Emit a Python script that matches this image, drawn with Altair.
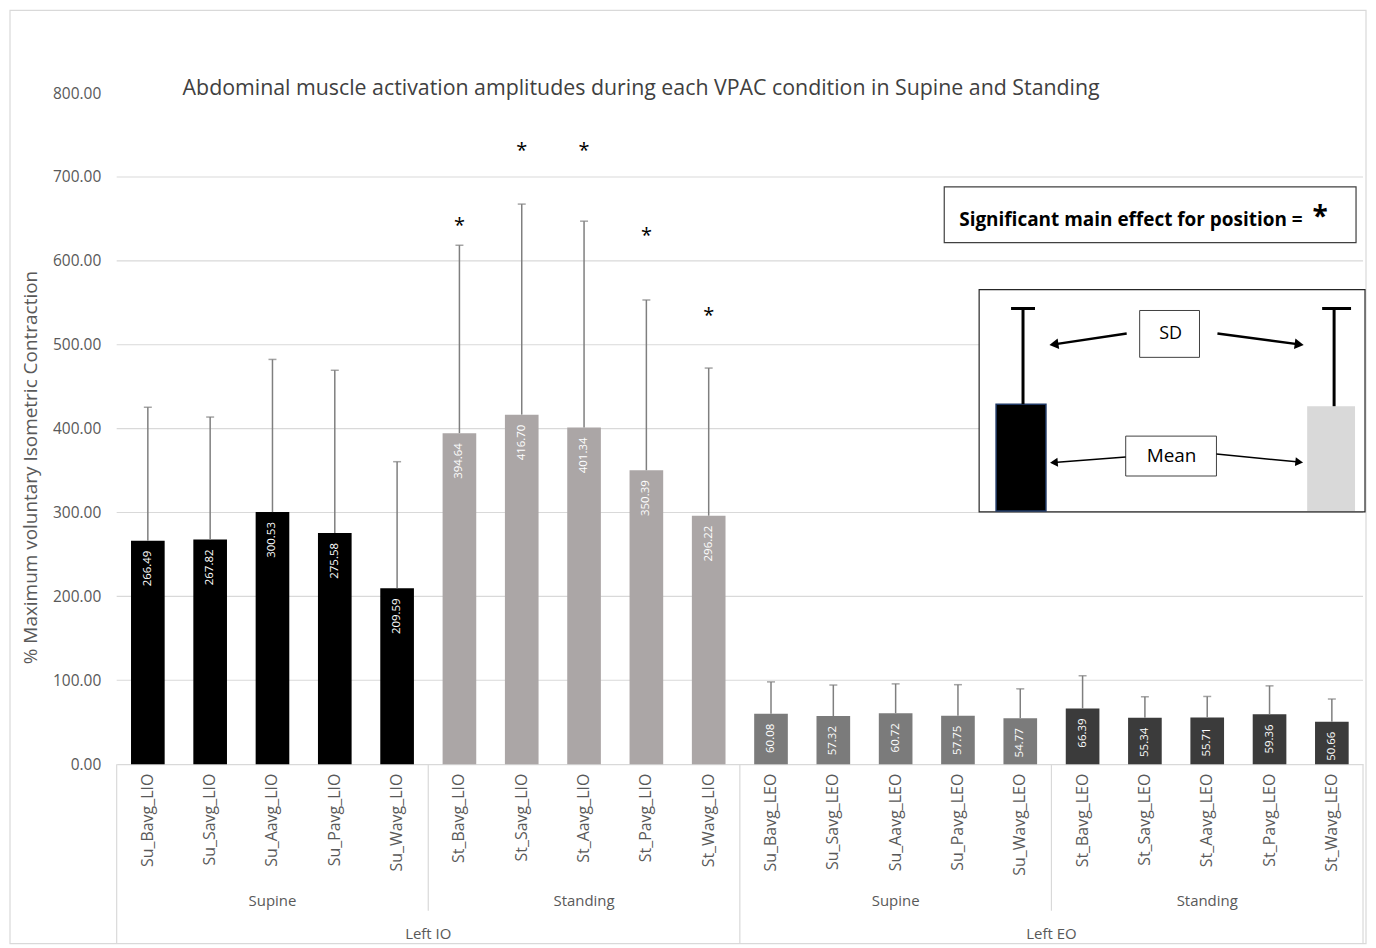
import altair as alt
import pandas as pd

# ---------------- data ----------------
categories = [
    "Su_Bavg_LIO", "Su_Savg_LIO", "Su_Aavg_LIO", "Su_Pavg_LIO", "Su_Wavg_LIO",
    "St_Bavg_LIO", "St_Savg_LIO", "St_Aavg_LIO", "St_Pavg_LIO", "St_Wavg_LIO",
    "Su_Bavg_LEO", "Su_Savg_LEO", "Su_Aavg_LEO", "Su_Pavg_LEO", "Su_Wavg_LEO",
    "St_Bavg_LEO", "St_Savg_LEO", "St_Aavg_LEO", "St_Pavg_LEO", "St_Wavg_LEO",
]
means = [266.49, 267.82, 300.53, 275.58, 209.59,
         394.64, 416.70, 401.34, 350.39, 296.22,
         60.08, 57.32, 60.72, 57.75, 54.77,
         66.39, 55.34, 55.71, 59.36, 50.66]
sds = [159, 146, 182, 194, 151,
       224, 251, 246, 203, 176,
       38, 37, 35, 37, 35,
       39, 25, 25, 34, 27]
groups = (["Supine LIO"] * 5 + ["Standing LIO"] * 5 +
          ["Supine LEO"] * 5 + ["Standing LEO"] * 5)
group_names = ["Supine LIO", "Standing LIO", "Supine LEO", "Standing LEO"]
group_colors = ["#000000", "#aba6a6", "#7b7b7b", "#3b3b3b"]

star_categories = ["St_Bavg_LIO", "St_Savg_LIO", "St_Aavg_LIO", "St_Pavg_LIO", "St_Wavg_LIO"]
star_values = [648, 737, 737, 635, 540]

position_labels = ["Supine", "Standing", "Supine", "Standing"]
position_centers = ["Su_Aavg_LIO", "St_Aavg_LIO", "Su_Aavg_LEO", "St_Aavg_LEO"]
muscle_labels = ["Left IO", "Left EO"]
muscle_starts = ["St_Bavg_LIO", "St_Bavg_LEO"]   # label sits at the boundary before these
inner_boundaries = ["St_Bavg_LIO", "St_Bavg_LEO"]
outer_boundaries = ["Su_Bavg_LEO"]

y_ticks = [0, 100, 200, 300, 400, 500, 600, 700, 800]
grid_values = [100, 200, 300, 400, 500, 600, 700]

TITLE = "Abdominal muscle activation amplitudes during each VPAC condition in Supine and Standing"
Y_TITLE = "% Maximum voluntary Isometric Contraction"

W, H = 1250, 673
STEP = W / len(categories)
FONT = "Open Sans"
GRAY_TXT = "#595959"
LINE = "#d9d9d9"

df = pd.DataFrame({"cat": categories, "mean": means, "sd": sds, "grp": groups})
stars = pd.DataFrame({"cat": star_categories, "mean": star_values})
pos_df = pd.DataFrame({"cat": position_centers, "lab": position_labels})
mus_df = pd.DataFrame({"cat": muscle_starts, "lab": muscle_labels})
inner_df = pd.DataFrame({"cat": inner_boundaries})
outer_df = pd.DataFrame({"cat": outer_boundaries})
grid_df = pd.DataFrame({"mean": grid_values})
one = pd.DataFrame({"k": [0]})

xscale = alt.Scale(domain=categories, paddingInner=0.46, paddingOuter=0.23)
yscale = alt.Scale(domain=[0, 800], nice=False)
x_axis = alt.Axis(title=None, labelAngle=-90, labelAlign="right", labelBaseline="middle",
                  labelPadding=9, labelFontSize=16, labelColor=GRAY_TXT, labelFont=FONT,
                  ticks=False, domainColor=LINE, domainWidth=1.2, grid=False)
y_axis = alt.Axis(values=y_ticks, format=".2f", title=Y_TITLE, titleFontSize=19,
                  titleFont=FONT, titleFontWeight="normal", titleColor=GRAY_TXT,
                  titleX=-76, titleY=375, titleBaseline="bottom",
                  labelFontSize=15.5, labelColor=GRAY_TXT, labelFont=FONT, labelPadding=16,
                  ticks=False, domain=False, grid=False)
X = alt.X("cat:N", scale=xscale, sort=categories, axis=x_axis)
Y = alt.Y("mean:Q", scale=yscale, axis=y_axis)

base = alt.Chart(df)

grid = alt.Chart(grid_df).mark_rule(color=LINE, strokeWidth=1.2).encode(
    y=Y, x=alt.value(0), x2=alt.value(W))

bars = base.mark_bar().encode(
    x=X, y=Y,
    color=alt.Color("grp:N", scale=alt.Scale(domain=group_names, range=group_colors), legend=None),
)

err = base.transform_calculate(upper="datum.mean + datum.sd").mark_rule(
    color="#7f7f7f", strokeWidth=1.5
).encode(x=X, y=Y, y2="upper:Q")

# cap at mean + sd (field recomputed under the same name so the axis is shared)
caps = base.transform_calculate(mean="datum.mean + datum.sd").mark_tick(
    color="#7f7f7f", thickness=1.5, size=8
).encode(x=X, y=Y)

labels = base.mark_text(angle=270, align="right", baseline="middle", dx=-10,
                        color="white", fontSize=11.5, font=FONT).encode(
    x=X, y=Y, text=alt.Text("mean:Q", format=".2f"))

star_marks = alt.Chart(stars).mark_text(text="*", fontSize=20, font=FONT, color="black",
                                        baseline="middle", dy=5).encode(x=X, y=Y)

# hierarchical axis: separators and group labels
outer_edges = alt.Chart(outer_df).mark_rule(color=LINE, strokeWidth=1.2, xOffset=-STEP / 2).encode(
    x=X, y=alt.value(H), y2=alt.value(H + 180))
inner_edges = alt.Chart(inner_df).mark_rule(color=LINE, strokeWidth=1.2, xOffset=-STEP / 2).encode(
    x=X, y=alt.value(H), y2=alt.value(H + 147))
left_edge = alt.Chart(one).mark_rule(color=LINE, strokeWidth=1.2).encode(
    x=alt.value(0), y=alt.value(H), y2=alt.value(H + 180))
right_edge = alt.Chart(one).mark_rule(color=LINE, strokeWidth=1.2).encode(
    x=alt.value(W), y=alt.value(H), y2=alt.value(H + 180))

pos_text = alt.Chart(pos_df).mark_text(fontSize=15, font=FONT, color=GRAY_TXT, baseline="middle").encode(
    x=X, y=alt.value(H + 137), text="lab:N")
mus_text = alt.Chart(mus_df).mark_text(fontSize=15, font=FONT, color=GRAY_TXT, baseline="middle",
                                       xOffset=-STEP / 2).encode(
    x=X, y=alt.value(H + 170), text="lab:N")

# title
title = alt.Chart(one).mark_text(text=TITLE, fontSize=21.4, font=FONT, color="#404040",
                                 baseline="middle").encode(x=alt.value(526), y=alt.value(-4))

# chart border
border = alt.Chart(one).mark_rect(fill=None, stroke=LINE, strokeWidth=1.2).encode(
    x=alt.value(-107), x2=alt.value(1253), y=alt.value(-83), y2=alt.value(853))

# significance legend box
sig_box = alt.Chart(one).mark_rect(fill="white", stroke="#404040", strokeWidth=1.2).encode(
    x=alt.value(830), x2=alt.value(1243), y=alt.value(94), y2=alt.value(150))
sig_text = alt.Chart(one).mark_text(text="Significant main effect for position =", fontSize=19,
                                    fontWeight="bold", font=FONT, color="black", align="left",
                                    baseline="middle").encode(x=alt.value(845), y=alt.value(127))
sig_star = alt.Chart(one).mark_text(text="*", fontSize=28, fontWeight="bold", font=FONT,
                                    color="black", baseline="middle").encode(
    x=alt.value(1207), y=alt.value(125))

# SD / Mean inset
inset_box = alt.Chart(one).mark_rect(fill="white", stroke="#262626", strokeWidth=1.2).encode(
    x=alt.value(865), x2=alt.value(1252), y=alt.value(197), y2=alt.value(420))
ex_bar1 = alt.Chart(one).mark_rect(fill="black", stroke="#1f3864", strokeWidth=1.5).encode(
    x=alt.value(882), x2=alt.value(932), y=alt.value(312), y2=alt.value(419))
ex_bar2 = alt.Chart(one).mark_rect(fill="#d9d9d9").encode(
    x=alt.value(1194), x2=alt.value(1242), y=alt.value(314), y2=alt.value(419))
ex_sd1 = alt.Chart(one).mark_rule(color="black", strokeWidth=3).encode(
    x=alt.value(909), y=alt.value(216), y2=alt.value(312))
ex_cap1 = alt.Chart(one).mark_rule(color="black", strokeWidth=3).encode(
    x=alt.value(897), x2=alt.value(921), y=alt.value(216))
ex_sd2 = alt.Chart(one).mark_rule(color="black", strokeWidth=3).encode(
    x=alt.value(1221), y=alt.value(216), y2=alt.value(314))
ex_cap2 = alt.Chart(one).mark_rule(color="black", strokeWidth=3).encode(
    x=alt.value(1209), x2=alt.value(1238), y=alt.value(216))

sd_box = alt.Chart(one).mark_rect(fill="white", stroke="#404040", strokeWidth=1).encode(
    x=alt.value(1026), x2=alt.value(1086), y=alt.value(218), y2=alt.value(265))
sd_text = alt.Chart(one).mark_text(text="SD", fontSize=18, font=FONT, color="black",
                                   baseline="middle").encode(x=alt.value(1057), y=alt.value(242))
mean_box = alt.Chart(one).mark_rect(fill="white", stroke="#404040", strokeWidth=1).encode(
    x=alt.value(1012), x2=alt.value(1103), y=alt.value(344), y2=alt.value(384))
mean_text = alt.Chart(one).mark_text(text="Mean", fontSize=19, font=FONT, color="black",
                                     baseline="middle").encode(x=alt.value(1058), y=alt.value(364))

def arrow(x1, y1, x2, y2, ang, w, size):
    line = alt.Chart(one).mark_rule(color="black", strokeWidth=w).encode(
        x=alt.value(x1), y=alt.value(y1), x2=alt.value(x2), y2=alt.value(y2))
    head = alt.Chart(one).mark_point(shape="triangle-right", filled=True, color="black",
                                     size=size, angle=ang, opacity=1).encode(
        x=alt.value(x2), y=alt.value(y2))
    return line + head

arrows = (arrow(1013, 241, 940, 252, 171.5, 2.5, 110) +
          arrow(1104, 241, 1186, 252, 7.7, 2.5, 110) +
          arrow(1012, 365, 940, 370.5, 175.7, 1.5, 80) +
          arrow(1103, 362, 1186, 370, 5.7, 1.5, 80))

chart = alt.layer(
    border, grid, bars, err, caps, labels, star_marks,
    outer_edges, inner_edges, left_edge, right_edge, pos_text, mus_text, title,
    sig_box, sig_text, sig_star,
    inset_box, ex_bar1, ex_bar2, ex_sd1, ex_cap1, ex_sd2, ex_cap2,
    sd_box, sd_text, mean_box, mean_text, arrows,
).properties(
    width=W, height=H,
    autosize=alt.AutoSizeParams(type="none"),
    padding={"left": 109, "top": 84, "right": 5, "bottom": 180},
    view=alt.ViewBackground(stroke="transparent", strokeWidth=0),
).configure_axis(grid=False, ticks=False).configure_view(stroke="transparent", strokeWidth=0
).configure(background="white")

chart.save("out.html", embed_options={"renderer": "svg", "actions": False})
